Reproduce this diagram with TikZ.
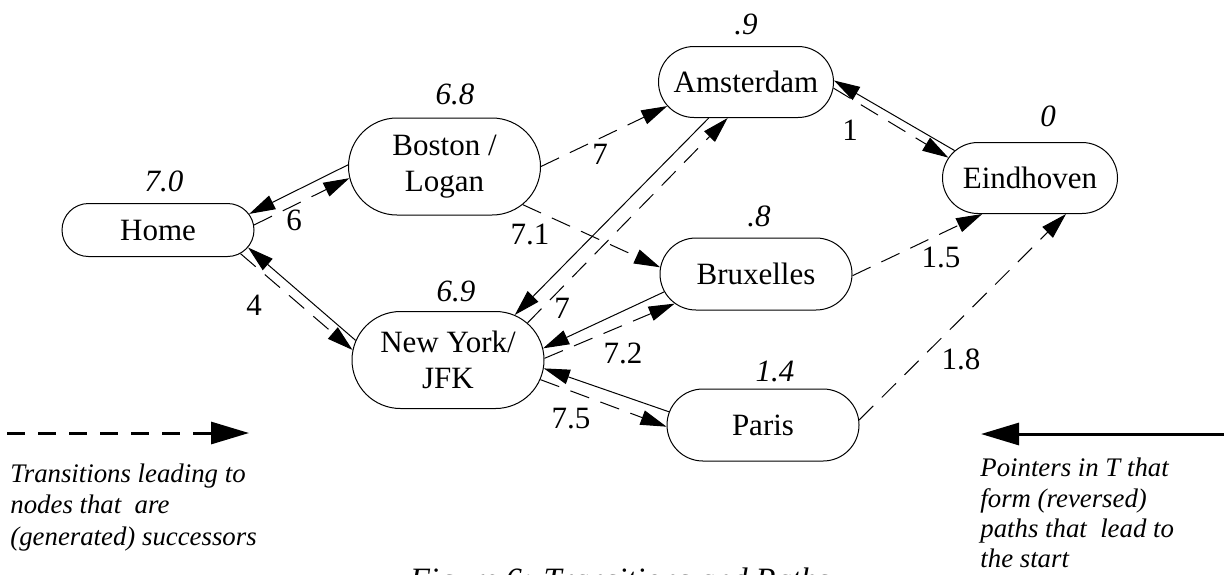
\documentclass[tikz,border=0pt]{standalone}
\usepackage{fontspec}
\setmainfont{Liberation Serif}
\usetikzlibrary{shapes.misc,arrows.meta}
\begin{document}
\begin{tikzpicture}[x=0.5pt,y=-0.5pt,
  city/.style={draw, line width=0.5pt, rounded rectangle, inner sep=0pt, align=center,
    font=\fontsize{15.5pt}{18pt}\selectfont},
  wide/.style={minimum width=96pt},
  narrow/.style={minimum width=87.5pt},
  hlab/.style={font=\fontsize{15.5pt}{18pt}\selectfont\itshape, inner sep=0pt, anchor=center},
  elab/.style={font=\fontsize{15.5pt}{18pt}\selectfont, inner sep=0pt, anchor=center},
  trans/.style={line width=0.5pt, dash pattern=on 10pt off 6pt, -{Triangle[length=13pt,width=7.5pt]}},
  ptr/.style={line width=0.5pt, -{Triangle[length=13pt,width=7.5pt]}},
  legtrans/.style={line width=1.5pt, dash pattern=on 9pt off 6.5pt, -{Triangle[length=19pt,width=11pt]}},
  legptr/.style={line width=1.5pt, -{Triangle[length=19pt,width=11pt]}},
  legtext/.style={font=\fontsize{13.4pt}{16pt}\selectfont\itshape, inner sep=0pt, anchor=base west}
]
\useasboundingbox (0,0) rectangle (1224,574);

% cities
\node[city, wide, minimum height=26.5pt] (home) at (158,230) {Home};
\node[city, wide, minimum height=48.5pt] (boston) at (444.5,166.5) {Boston /\\Logan};
\node[city, wide, minimum height=48.5pt] (ny) at (448,360) {New York/\\JFK};
\node[city, narrow, minimum height=35.5pt] (ams) at (746,82) {Amsterdam};
\node[city, narrow, minimum height=35.5pt] (eind) at (1030,178) {Eindhoven};
\node[city, wide, minimum height=36pt] (brux) at (756,274) {Bruxelles};
\node[city, wide, minimum height=36pt] (paris) at (763,425) {Paris};

% heuristic values
\node[hlab] (hhome) at (164,181) {7.0};
\node[hlab] (hboston) at (455,94) {6.8};
\node[hlab] (hny) at (456,291) {6.9};
\node[hlab] (hams) at (746,24) {.9};
\node[hlab] (heind) at (1048,116) {0};
\node[hlab] (hbrux) at (759,216) {.8};
\node[hlab] (hparis) at (775,371) {1.4};

% connectors
\draw[trans] (home.3) -- (boston.187);
\draw[ptr] (boston.179) -- (home.10);
\draw[ptr] (ny.168) -- (home.349);
\draw[trans] (home.344) -- (ny.174);
\draw[trans] (boston.0) -- (ams.197);
\draw[trans] (boston.334) -- (brux.176);
\draw[ptr] (ams.224) -- (ny.34);
\draw[trans] (ny.25) -- (ams.243);
\draw[ptr] (brux.191) -- (ny.7);
\draw[trans] (ny.1) -- (brux.200);
\draw[ptr] (paris.172) -- (ny.355);
\draw[trans] (ny.348) -- (paris.181);
\draw[ptr] (eind.160) -- (ams.1);
\draw[trans] (ams.356) -- (eind.166);
\draw[trans] (brux.359) -- (eind.217);
\draw[trans] (paris.3) -- (eind.315);

% edge labels
\node[elab] (l6) at (294,220) {6};
\node[elab] (l4) at (254,305) {4};
\node[elab] (l7a) at (600,154) {7};
\node[elab] (l71) at (530,234) {7.1};
\node[elab] (l7b) at (562,308) {7};
\node[elab] (l72) at (623,353) {7.2};
\node[elab] (l75) at (571,419) {7.5};
\node[elab] (l1) at (850,130) {1};
\node[elab] (l15) at (941,257) {1.5};
\node[elab] (l18) at (961,359) {1.8};

% legend
\coordinate (lt0) at (7,433);
\coordinate (lt1) at (249,433);
\draw[legtrans] (lt0) -- (lt1);
\coordinate (rp0) at (1226,434);
\coordinate (rp1) at (981,434);
\draw[legptr] (rp0) -- (rp1);
\node[legtext] (legl1) at (10,482) {Transitions leading to};
\node[legtext] (legl2) at (10,513) {nodes that\ \ are};
\node[legtext] (legl3) at (10,545) {(generated) successors};
\node[legtext] (legr1) at (980,476) {Pointers in T that};
\node[legtext] (legr2) at (980,507) {form (reversed)};
\node[legtext] (legr3) at (980,537) {paths that\ \ lead to};
\node[legtext] (legr4) at (980,567) {the start};

% caption (cut at the bottom edge, as in the reference)
\node[font=\fontsize{16.3pt}{19pt}\selectfont\itshape, inner sep=0pt, anchor=base] (cap) at (620,590) {Figure 6: Transitions and Paths};
\end{tikzpicture}
\end{document}
